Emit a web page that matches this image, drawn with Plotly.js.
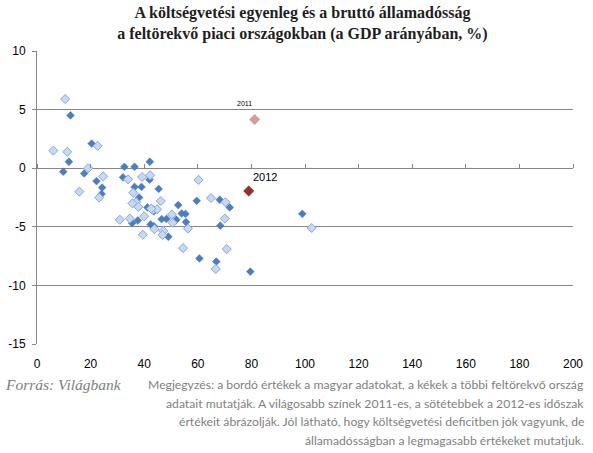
<!DOCTYPE html>
<html><head><meta charset="utf-8">
<script src="https://cdn.plot.ly/plotly-3.0.1.min.js"></script>
<style>html,body{margin:0;padding:0;background:#fff}#chart{width:593px;height:453px}</style>
</head><body><div id="chart"></div>
<script>
// Other emerging economies, 2011 (lighter) — gross debt % GDP, budget balance % GDP
const debt2011    = [10.5, 6.1, 11.3, 22.6, 19.1, 24.7, 15.8, 23.2, 34.0, 39.2, 42.2, 60.3, 35.9, 37.0, 35.6, 37.8, 46.2, 64.9, 70.3, 43.3, 44.8, 30.9, 34.6, 40.0, 50.3, 50.6, 70.1, 43.8, 47.1, 46.8, 39.5, 56.3, 54.5, 70.8, 66.7, 102.5, 42.6];
const balance2011 = [5.9, 1.5, 1.4, 1.9, 0.0, -0.7, -2.0, -2.5, -0.95, -0.75, -0.6, -1.0, -2.1, -2.9, -3.0, -3.3, -2.8, -2.55, -2.9, -3.55, -3.5, -4.4, -4.3, -4.1, -3.95, -4.65, -4.3, -5.2, -5.35, -5.7, -5.68, -5.15, -6.82, -6.9, -8.6, -5.1, -3.45];
// Other emerging economies, 2012 (darker)
const debt2012    = [12.5, 11.9, 20.4, 9.8, 17.6, 22.2, 24.3, 24.1, 32.6, 36.4, 42.1, 32.1, 42.0, 36.4, 39.0, 45.4, 38.1, 52.7, 59.6, 68.2, 71.9, 41.2, 43.6, 35.5, 37.6, 42.4, 43.6, 46.5, 48.3, 52.0, 54.0, 55.4, 55.6, 49.0, 68.4, 60.6, 66.9, 79.6, 99.0];
const balance2012 = [4.5, 0.55, 2.1, -0.3, -0.45, -1.1, -1.65, -2.2, 0.12, 0.12, 0.55, -0.78, -0.98, -1.6, -1.6, -1.77, -2.5, -3.15, -2.78, -2.69, -3.35, -3.35, -3.69, -4.69, -4.46, -4.8, -4.95, -4.35, -4.33, -4.4, -3.86, -3.9, -4.6, -5.85, -4.9, -7.7, -7.97, -8.82, -3.89];
// Hungary
const huDebt2011 = [81.2], huBalance2011 = [4.15];
const huDebt2012 = [79.0], huBalance2012 = [-1.95];
const huLabels = ['2011', '2012'];

const xTicks = [0, 20, 40, 60, 80, 100, 120, 140, 160, 180, 200];
const yTicks = [10, 5, 0, -5, -10, -15];

const titleText = '<b>A költségvetési egyenleg és a bruttó államadósság<br>a feltörekvő piaci országokban (a GDP arányában, %)</b>';
const sourceText = 'Forrás: Világbank';
const noteLines = [
  'Megjegyzés: a bordó értékek a magyar adatokat, a kékek a többi feltörekvő ország',
  'adatait mutatják. A világosabb színek 2011-es, a sötétebbek a 2012-es időszak',
  'értékeit ábrázolják. Jól látható, hogy költségvetési deficitben jók vagyunk, de',
  'államadósságban a legmagasabb értékeket mutatjuk.'
];

const W = 593, H = 453;
const m = {l: 37, r: 20, t: 51, b: 109};
const pw = W - m.l - m.r, ph = H - m.t - m.b;
const px2x = px => (px - m.l) / pw;
const py2y = py => (H - m.b - py) / ph;

const grey = '#868686';
const tickFont = {family: 'Liberation Sans, Arial, sans-serif', size: 12, color: '#000'};

const traces = [
  {x: debt2012, y: balance2012, type: 'scatter', mode: 'markers', hoverinfo: 'skip',
   marker: {symbol: 'diamond', size: 6, color: '#4a7ebf', line: {color: '#4277b8', width: 0.5}}},
  {x: debt2011, y: balance2011, type: 'scatter', mode: 'markers', hoverinfo: 'skip',
   marker: {symbol: 'diamond', size: 7, color: '#c8d8f0', line: {color: '#86a8dc', width: 1}}},
  {x: huDebt2011, y: huBalance2011, xaxis: 'x2', type: 'scatter', mode: 'markers', hoverinfo: 'skip',
   marker: {symbol: 'diamond', size: 8.5, color: '#d49c9b', line: {width: 0}}},
  {x: huDebt2012, y: huBalance2012, xaxis: 'x2', type: 'scatter', mode: 'markers', hoverinfo: 'skip',
   marker: {symbol: 'diamond', size: 8.5, color: '#96302c', line: {width: 0}}}
];

const annotations = [
  {x: huDebt2011[0], y: huBalance2011[0], xref: 'x', yref: 'y', text: huLabels[0], showarrow: false,
   xshift: -10, yshift: 16, font: {family: 'Liberation Sans, Arial, sans-serif', size: 7, color: '#000'}},
  {x: huDebt2012[0], y: huBalance2012[0], xref: 'x', yref: 'y', text: huLabels[1], showarrow: false,
   xshift: 16, yshift: 14, font: {family: 'Liberation Sans, Arial, sans-serif', size: 11, color: '#000'}},
  {x: px2x(3), y: py2y(384.5), xref: 'paper', yref: 'paper', xanchor: 'left', yanchor: 'middle',
   text: '<i>' + sourceText + '</i>', showarrow: false,
   font: {family: 'Liberation Serif, serif', size: 15.5, color: '#808080'}}
];
const noteY = [384.5, 403, 421.5, 440];
noteLines.forEach((t, i) => annotations.push({
  x: px2x(585.5), y: py2y(noteY[i]), xref: 'paper', yref: 'paper', xanchor: 'right', yanchor: 'middle',
  text: t, showarrow: false, font: {family: 'Lato, sans-serif', size: 12.2, color: '#7f7f7f'}
}));

const layout = {
  width: W, height: H, margin: m, paper_bgcolor: '#fff', plot_bgcolor: '#fff', showlegend: false,
  title: {text: titleText, font: {family: 'Liberation Serif, serif', size: 16, color: '#1e1e1e'},
          x: 0.51, xanchor: 'center', xref: 'container', y: 1 - 18 / H, yref: 'container', yanchor: 'top'},
  xaxis: {range: [0, 200], tickvals: xTicks, ticktext: xTicks.map(String), showgrid: false, zeroline: false,
          showline: false, ticks: '', ticklabelstandoff: 11, tickfont: tickFont, fixedrange: true},
  xaxis2: {range: [0, 200], tickvals: xTicks, overlaying: 'x', anchor: 'free', position: 0.6, side: 'top',
           showgrid: false, zeroline: false, showline: false, ticks: 'outside', ticklen: 4, tickcolor: grey,
           tickwidth: 1, showticklabels: false, fixedrange: true},
  yaxis: {range: [-15, 10], tickvals: yTicks, ticktext: yTicks.map(String), showgrid: true, gridcolor: grey,
          gridwidth: 1, zeroline: false, showline: true, linecolor: grey, linewidth: 1, ticks: 'outside',
          ticklen: 4, tickcolor: grey, tickwidth: 1, tickfont: tickFont, ticklabelstandoff: 4, fixedrange: true},
  annotations: annotations
};

Plotly.newPlot('chart', traces, layout, {displayModeBar: false, staticPlot: true});
</script></body></html>
